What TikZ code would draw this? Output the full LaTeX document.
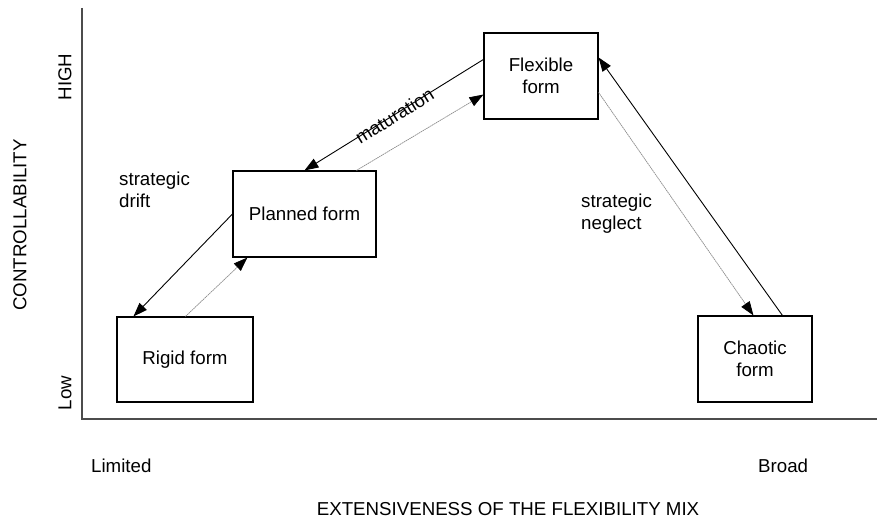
\documentclass[tikz,border=0pt]{standalone}
\usepackage{fontspec}
\setmainfont{Liberation Sans}
\usetikzlibrary{arrows.meta}
\begin{document}
\begin{tikzpicture}[x=1pt,y=-1pt,
  every node/.style={font=\fontsize{18.7}{22}\selectfont, inner sep=0pt},
  formbox/.style={draw=black, line width=1.1pt, align=center},
  axisline/.style={draw=black!70, line width=1.2pt},
  mainflow/.style={draw=black, line width=0.9pt, -{Triangle[length=14pt,width=10pt]}},
  backflow/.style={draw=black!45, line width=0.7pt, dash pattern=on 1.6pt off 0.6pt,
                   -{Triangle[length=14pt,width=10pt,color=black]}}]
\useasboundingbox (0,0) rectangle (877,519);

% axes
\coordinate (origin) at (82,419);
\coordinate (ytop) at (82,8);
\coordinate (xend) at (877,419);
\draw[axisline] (ytop) -- (origin) -- (xend);

% axis annotations
\node[rotate=90] (high) at (65,77) {HIGH};
\node[rotate=90] (low) at (65,393) {Low};
\node[rotate=90] (ylabel) at (20,225) {CONTROLLABILITY};
\node[anchor=base west] (limited) at (91,472) {Limited};
\node[anchor=base west] (broad) at (758,472) {Broad};
\node[anchor=base] (xlabel) at (508,515.5) {EXTENSIVENESS OF THE FLEXIBILITY MIX};

% the four forms
\node[formbox, minimum width=136pt, minimum height=85pt] (rigid) at (185,359.5) {Rigid form};
\node[formbox, minimum width=143pt, minimum height=86pt] (planned) at (304.5,214) {Planned form};
\node[formbox, minimum width=114pt, minimum height=86pt] (flexible) at (541,76) {Flexible\\form};
\node[formbox, minimum width=114pt, minimum height=86pt] (chaotic) at (755,359) {Chaotic\\form};

% transitions
\draw[mainflow] (planned.west) -- ([xshift=17pt]rigid.north west);
\draw[backflow] ([xshift=69pt]rigid.north west) -- ([xshift=15pt]planned.south west);
\draw[mainflow] ([yshift=-27pt]flexible.north west) --
  node[sloped, pos=0.5, yshift=-1pt] (maturation) {maturation}
  ([xshift=72pt]planned.north west);
\draw[backflow] ([xshift=124pt]planned.north west) -- ([yshift=25pt]flexible.south west);
\draw[mainflow] ([xshift=85pt]chaotic.north west) -- ([yshift=-25pt]flexible.north east);
\draw[backflow] ([yshift=-60pt]flexible.north east) -- ([xshift=56pt]chaotic.north west);

% transition labels
\node[anchor=west, align=left] (drift) at (119,190) {strategic\\drift};
\node[anchor=west, align=left] (neglect) at (581,214) {strategic\\neglect};
\end{tikzpicture}
\end{document}
